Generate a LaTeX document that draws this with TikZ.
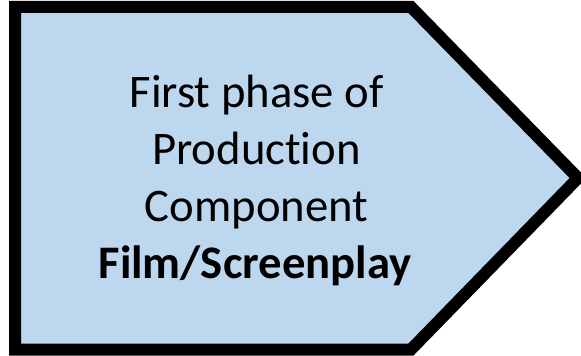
\documentclass[tikz,border=0pt]{standalone}
\usepackage{fontspec}
\setmainfont{Carlito}[Ligatures=NoCommon]
\definecolor{boxfill}{HTML}{BDD7EE}
\tikzset{
  arrowbox/.style={draw=black, line width=9pt, fill=boxfill, line join=miter},
  boxtext/.style={anchor=base, inner sep=0pt, font=\fontsize{35}{42}\selectfont, text=black}
}
\begin{document}
\begin{tikzpicture}[x=0.75pt,y=-0.75pt]
\useasboundingbox (0,0) rectangle (581,356);
\draw[arrowbox] (15,7) -- (411,7) -- (578,178) -- (411,349.5) -- (15,349.5) -- cycle;
\node[boxtext] (l1) at (256.5,108) {First phase of};
\node[boxtext] (l2) at (256.5,165) {Production};
\node[boxtext] (l3) at (256.5,221.5) {Component};
\node[boxtext, font=\fontsize{35}{42}\selectfont\bfseries] (l4) at (255,278) {Film/Screenplay};
\end{tikzpicture}
\end{document}
